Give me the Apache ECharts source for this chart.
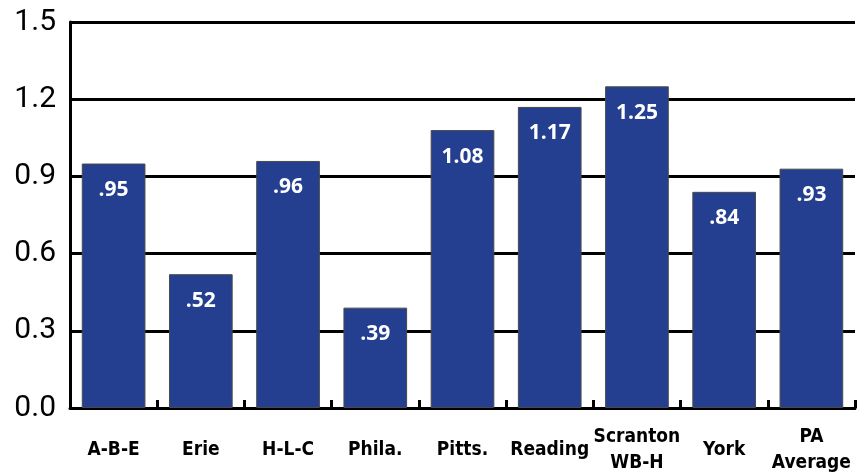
<!DOCTYPE html>
<html>
<head>
<meta charset="utf-8">
<script src="https://cdn.jsdelivr.net/npm/echarts@6/dist/echarts.min.js"></script>
<style>
  html, body { margin: 0; padding: 0; background: #fff; }
  #chart { width: 865px; height: 476px; }
</style>
</head>
<body>
<div id="chart"></div>
<script>
// regions along the x axis
let categories = ['A-B-E', 'Erie', 'H-L-C', 'Phila.', 'Pitts.', 'Reading', 'Scranton\nWB-H', 'York', 'PA\nAverage'];
// bar values
let values = [0.95, 0.52, 0.96, 0.39, 1.08, 1.17, 1.25, 0.84, 0.93];
// y axis ticks
let yTicks = [0.0, 0.3, 0.6, 0.9, 1.2, 1.5];

let myChart = echarts.init(document.getElementById('chart'));

// ".95" style labels, leading zero dropped
function fmtVal(v) {
    let s = v.toFixed(2);
    if (s.charAt(0) == '0') s = s.substring(1);
    return s;
}

let option = {
    animation: false,
    grid: {
        left: 70,
        right: 10,
        top: 22,
        bottom: 66
    },
    xAxis: {
        type: 'category',
        data: categories,
        axisLine: { lineStyle: { color: '#000', width: 3 } },
        axisTick: {
            show: true,
            inside: true,
            length: 8,
            lineStyle: { color: '#000', width: 3 }
        },
        axisLabel: {
            interval: 0,
            margin: 42,
            verticalAlign: 'middle',
            color: '#000',
            fontFamily: 'DejaVu Sans Condensed, Roboto, sans-serif',
            fontWeight: 'bold',
            fontSize: 19,
            lineHeight: 26
        }
    },
    yAxis: {
        type: 'value',
        min: yTicks[0],
        max: yTicks[yTicks.length - 1],
        interval: 0.3,
        axisLine: { show: true, lineStyle: { color: '#000', width: 3 } },
        axisTick: {
            show: true,
            inside: true,
            length: 10,
            lineStyle: { color: '#000', width: 3 }
        },
        splitLine: { show: true, lineStyle: { color: '#000', width: 3 } },
        axisLabel: {
            margin: 14,
            color: '#000',
            fontFamily: 'Roboto, sans-serif',
            fontSize: 30,
            formatter: function (v) { return v.toFixed(1); }
        }
    },
    series: [
        {
            type: 'bar',
            data: values,
            barWidth: '73%',
            itemStyle: {
                color: '#243f8f',
                borderColor: '#4a4a4a',
                borderWidth: 1
            },
            label: {
                show: true,
                position: 'insideTop',
                distance: 16,
                color: '#fff',
                fontFamily: 'Open Sans, sans-serif',
                fontWeight: 'bold',
                fontSize: 21,
                formatter: function (p) { return fmtVal(p.value); }
            }
        }
    ]
};
myChart.setOption(option);
</script>
</body>
</html>
